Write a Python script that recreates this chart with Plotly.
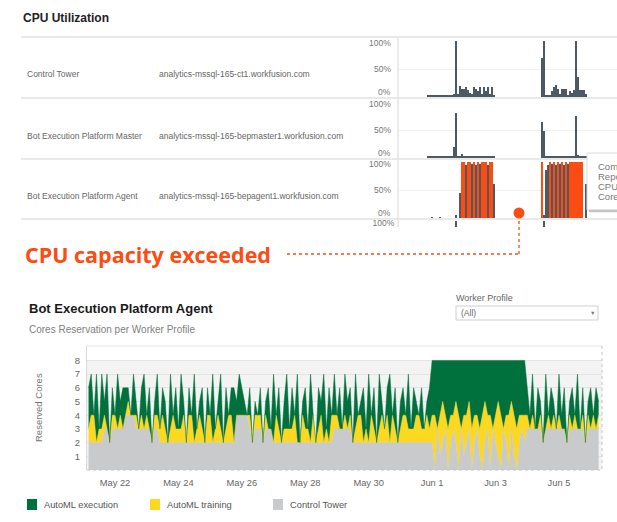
import plotly.graph_objects as go
import pandas as pd

W, H = 617, 522
FONT = "Liberation Sans"
ORANGE = "#fc4c12"
SLATE = "#4d5963"

# ---- Cores Reservation per Worker Profile (2-hour samples from May 21 04:00) ----
control_tower = [
    2, 2, 2, 2, 2, 2, 3, 3, 2, 3,
    3, 3, 3, 3, 4, 4, 4, 4, 3, 3, 3, 3,
    3, 3, 2, 3, 3, 2, 2, 2, 2, 2, 2, 2,
    2, 2, 2, 2, 2, 2, 2, 2, 2, 2, 2, 2,
    2, 2, 2, 2, 2, 2, 2, 2, 2, 2, 4, 4,
    4, 4, 4, 3, 2, 3, 3, 3, 2, 3, 3, 3,
    2, 2, 2, 2, 2, 2, 2, 2, 2, 2, 2, 2,
    2, 2, 2, 2, 2, 2, 2, 2, 2, 2, 2, 3,
    3, 3, 3, 3, 3, 3, 2, 2, 2, 2, 2, 2,
    2, 2, 2, 2, 2, 2, 2, 2, 2, 2, 2, 2,
    2, 2, 2, 2, 2, 2, 2, 2, 2, 2, 2, 2,
    2, 0, 3, 1, 2, 3, 0, 2, 3, 2, 0, 3,
    1, 2, 3, 0, 2, 3, 1, 0, 2, 3, 0, 3,
    2, 1, 0, 3, 2, 0, 3, 1, 0, 2, 3, 2,
    3, 3, 3, 3, 3, 3, 2, 3, 3, 3, 3, 3,
    3, 3, 3, 2, 3, 3, 3, 3, 3, 3, 2, 3,
    3, 3, 3, 3,
]
automl_training = [
    1, 2, 2, 0, 1, 1, 1, 0, 0, 1,
    1, 0, 1, 0, 0, 1, 0, 0, 1, 0, 1, 0,
    1, 0, 0, 1, 1, 1, 2, 1, 0, 1, 2, 1,
    1, 1, 2, 0, 2, 2, 0, 1, 2, 1, 0, 2,
    2, 0, 1, 2, 1, 0, 1, 2, 2, 0, 0, 0,
    0, 0, 0, 1, 0, 1, 1, 1, 0, 1, 0, 0,
    0, 2, 1, 0, 1, 1, 1, 1, 2, 0, 0, 2,
    1, 1, 0, 2, 0, 1, 2, 0, 1, 0, 2, 1,
    1, 0, 0, 1, 0, 1, 0, 1, 2, 2, 0, 1,
    0, 2, 1, 0, 1, 2, 1, 2, 0, 2, 1, 0,
    1, 2, 2, 1, 1, 1, 2, 2, 1, 1, 2, 1,
    2, 4, 0, 3, 3, 1, 3, 2, 1, 3, 4, 0,
    3, 2, 2, 3, 2, 1, 2, 4, 3, 1, 4, 0,
    2, 4, 4, 0, 2, 4, 2, 3, 3, 2, 1, 2,
    1, 0, 1, 0, 0, 1, 0, 0, 1, 0, 1, 0,
    1, 0, 0, 0, 1, 0, 1, 0, 0, 1, 0, 1,
    0, 1, 0, 1,
]
automl_execution = [
    3, 3, 0, 5, 0, 4, 1, 4, 0, 2,
    0, 4, 1, 3, 2, 1, 0, 3, 1, 0, 2, 4,
    0, 3, 0, 1, 3, 0, 2, 2, 0, 4, 0, 3,
    0, 4, 1, 0, 2, 0, 5, 0, 1, 3, 0, 2,
    0, 5, 0, 1, 4, 0, 3, 0, 2, 4, 1, 3,
    2, 1, 0, 2, 0, 1, 0, 2, 0, 1, 3, 0,
    5, 0, 3, 0, 2, 4, 0, 3, 0, 5, 0, 1,
    3, 0, 5, 0, 0, 3, 1, 5, 0, 4, 0, 3,
    0, 3, 0, 3, 2, 2, 0, 4, 0, 1, 4, 0,
    5, 0, 3, 0, 4, 1, 0, 2, 5, 0, 3, 0,
    2, 2, 0, 4, 0, 3, 1, 0, 3, 0, 1, 3,
    4, 4, 5, 4, 3, 4, 5, 4, 4, 3, 4, 5,
    4, 4, 3, 5, 4, 4, 5, 4, 3, 4, 4, 5,
    4, 3, 4, 5, 4, 4, 3, 4, 5, 4, 4, 4,
    2, 1, 3, 0, 3, 1, 0, 4, 0, 3, 1, 0,
    3, 1, 3, 0, 1, 3, 0, 4, 0, 2, 0, 1,
    3, 0, 3, 1,
]
times = pd.date_range("2021-05-21 04:00", periods=len(control_tower), freq="2h")

tick_dates = ["2021-05-22", "2021-05-24", "2021-05-26", "2021-05-28",
              "2021-05-30", "2021-06-01", "2021-06-03", "2021-06-05"]
tick_labels = ["May 22", "May 24", "May 26", "May 28", "May 30", "Jun 1", "Jun 3", "Jun 5"]

# ---- CPU Utilization sparklines (hour offsets, % CPU) ----
hours = list(range(30, 97, 2)) + list(range(144, 189, 2))
cpu_control_tower = [2, 2, 2, 2, 2, 2, 3, 2, 2, 2, 2, 2, 2,
                     6, 100, 5, 20, 15, 15, 17, 12, 8, 5, 17, 15, 10, 17, 5, 17, 10, 18, 5, 18, 3,
                     70, 100, 2, 2, 2, 10, 17, 22, 15, 5, 15, 15, 15, 2, 10, 8, 12, 100, 35, 12, 12, 12, 5]
cpu_bep_master = [2, 2, 2, 2, 2, 2, 2, 2, 2, 2, 2, 2, 2,
                  20, 80, 3, 4, 8, 3, 2, 2, 3, 2, 2, 3, 2, 2, 3, 2, 2, 3, 2, 2, 2,
                  65, 48, 2, 2, 2, 2, 3, 2, 2, 3, 2, 2, 3, 2, 2, 2, 2, 75, 5, 3, 2, 2, 2]
cpu_bep_agent = [0, 0, 1, 0, 0, 0, 1, 0, 0, 0, 0, 0, 0, 0, 5, 0, 45,
                 100, 100, 95, 100, 100, 96, 100, 95, 100, 97, 100, 100, 100, 95, 100, 100, 60,
                 100, 5, 85, 95, 100, 96, 100, 95, 100, 96, 100, 95, 100, 96,
                 100, 100, 100, 100, 100, 100, 100, 0, 60]
next_row_hours = [58, 146]
next_row_cpu = [100, 100]

rows = ["Control Tower", "Bot Execution Platform Master", "Bot Execution Platform Agent"]
hosts = ["analytics-mssql-165-ct1.workfusion.com",
         "analytics-mssql-165-bepmaster1.workfusion.com",
         "analytics-mssql-165-bepagent1.workfusion.com"]

legend_names = ["AutoML execution", "AutoML training", "Control Tower"]
legend_colors = ["#00703c", "#fcd920", "#c8cacc"]


def px(x):
    return x / W


def py(y):
    return 1 - y / H


fig = go.Figure()

# stacked areas: gray bottom, yellow, green on top
for name, vals, col in [("Control Tower", control_tower, "#c8cacc"),
                        ("AutoML training", automl_training, "#fcd920"),
                        ("AutoML execution", automl_execution, "#00703c")]:
    fig.add_trace(go.Scatter(x=times, y=vals, name=name, stackgroup="cores", mode="lines",
                             line=dict(width=0.5, color=col), fillcolor=col, showlegend=False))

# sparklines
agent_colors = [ORANGE if v >= 100 else SLATE for v in cpu_bep_agent]
for i, (vals, cols) in enumerate([(cpu_control_tower, SLATE), (cpu_bep_master, SLATE),
                                  (cpu_bep_agent, agent_colors)]):
    fig.add_trace(go.Bar(x=hours, y=vals, width=1.8, marker=dict(color=cols, line_width=0),
                         xaxis="x%d" % (i + 2), yaxis="y%d" % (i + 2), showlegend=False))
fig.add_trace(go.Bar(x=next_row_hours, y=next_row_cpu, width=1.6,
                     marker=dict(color=SLATE, line_width=0),
                     xaxis="x5", yaxis="y5", showlegend=False))
# clipped label of the next (cut off) row
fig.add_trace(go.Scatter(x=[0], y=[0], mode="text", text=["100%"], textposition="middle left",
                         textfont=dict(size=8.5, color="#777", family=FONT), cliponaxis=True,
                         xaxis="x6", yaxis="y6", showlegend=False))

spark_rows = [(41, 97), (102, 158), (162, 218)]
layout_axes = {}
for i, (top, bot) in enumerate(spark_rows):
    n = i + 2
    layout_axes["xaxis%d" % n] = dict(domain=[px(398), 1], range=[0, 219], visible=False,
                                      anchor="y%d" % n)
    layout_axes["yaxis%d" % n] = dict(domain=[py(bot), py(top)], range=[0, 100], anchor="x%d" % n,
                                      tickvals=[50, 100], showticklabels=False, showgrid=True,
                                      gridcolor="#f1f1f1", zeroline=False, fixedrange=True)
layout_axes["xaxis5"] = dict(domain=[px(398), 1], range=[0, 219], visible=False, anchor="y5")
layout_axes["yaxis5"] = dict(domain=[py(227), py(221)], range=[88, 100], visible=False, anchor="x5")
layout_axes["xaxis6"] = dict(domain=[px(360), px(396)], range=[-1, 0.05], visible=False, anchor="y6")
layout_axes["yaxis6"] = dict(domain=[py(227), py(219)], range=[-1, 2], visible=False, anchor="x6")

shapes = []
for y in [37, 98, 159, 219]:
    shapes.append(dict(type="line", xref="paper", yref="paper", x0=px(21), x1=1, y0=py(y), y1=py(y),
                       line=dict(color="#e2e2e2", width=1.5)))
shapes.append(dict(type="line", xref="paper", yref="paper", x0=px(398), x1=px(398),
                   y0=py(37), y1=py(227), line=dict(color="#e2e2e2", width=1.3)))

# bottom chart frame and band
shapes.append(dict(type="rect", xref="paper", yref="y", x0=px(87), x1=px(602), y0=0, y1=8,
                   fillcolor="#f3f3f3", line_width=0, layer="below"))
shapes.append(dict(type="line", xref="paper", yref="paper", x0=px(87), x1=px(602),
                   y0=py(346), y1=py(346), line=dict(color="#e6e6e6", width=1)))
shapes.append(dict(type="line", xref="paper", yref="paper", x0=px(602), x1=px(602),
                   y0=py(346), y1=py(470), line=dict(color="#c4c4c4", width=1, dash="dot")))
shapes.append(dict(type="line", xref="paper", yref="paper", x0=px(87), x1=px(602),
                   y0=py(470), y1=py(470), line=dict(color="#c4c4c4", width=1, dash="dot")))

# callout
shapes.append(dict(type="line", xref="paper", yref="paper", x0=px(519), x1=px(519),
                   y0=py(215), y1=py(254), line=dict(color=ORANGE, width=1.3, dash="dot")))
shapes.append(dict(type="line", xref="paper", yref="paper", x0=px(287), x1=px(519),
                   y0=py(254), y1=py(254), line=dict(color=ORANGE, width=1.3, dash="dot")))
shapes.append(dict(type="circle", xref="paper", yref="paper", x0=px(513.5), x1=px(524.5),
                   y0=py(218.5), y1=py(207.5), fillcolor=ORANGE, line_width=0))

# tooltip fragment
shapes.append(dict(type="rect", xref="paper", yref="paper", x0=px(587), x1=px(640),
                   y0=py(210), y1=py(153), fillcolor="white",
                   line=dict(color="#dcdcdc", width=1), layer="above"))
shapes.append(dict(type="line", xref="paper", yref="paper", x0=px(589), x1=1,
                   y0=py(211), y1=py(211), line=dict(color="#c4c4c4", width=2.5), layer="above"))

# dropdown
shapes.append(dict(type="rect", xref="paper", yref="paper", x0=px(456), x1=px(598),
                   y0=py(320), y1=py(306), fillcolor="white", line=dict(color="#cfcfcf", width=1)))

# legend swatches
for i, col in enumerate(legend_colors):
    x0 = 27 + i * 123
    shapes.append(dict(type="rect", xref="paper", yref="paper", x0=px(x0), x1=px(x0 + 10),
                       y0=py(510), y1=py(499), fillcolor=col, line_width=0))

annotations = []


def note(text, x, y, size, color, xanchor="left", weight="normal", family=FONT, angle=0):
    annotations.append(dict(text=text, x=px(x), y=py(y), xref="paper", yref="paper",
                            xanchor=xanchor, yanchor="middle", showarrow=False, textangle=angle,
                            font=dict(size=size, color=color, family=family, weight=weight)))


note("CPU Utilization", 21, 18, 12, "#222", weight="bold")
for i, (top, bot) in enumerate(spark_rows):
    mid = (37 + 61 * i + 37 + 61 * (i + 1)) / 2
    note(rows[i], 25, mid + 7, 8.5, "#666")
    note(hosts[i], 157, mid + 7, 8.5, "#666")
    for val, shift in [(100, -2), (50, 0), (0, 5)]:
        annotations.append(dict(text="%d%%" % val, x=px(393), y=val, xref="paper",
                                yref="y%d" % (i + 2), yshift=shift, xanchor="right",
                                yanchor="middle", showarrow=False,
                                font=dict(size=8.5, color="#777", family=FONT)))

for k, word in enumerate(["Computer", "Reported", "CPU Utilization", "Cores"]):
    note(word, 596, 166 + k * 10.3, 9.5, "#777")

note("CPU capacity exceeded", 23, 254, 21.5, ORANGE, weight="bold", family="Open Sans")

note("Bot Execution Platform Agent", 27, 308, 13, "#1a1a1a", weight="bold")
note("Cores Reservation per Worker Profile", 27, 329, 10, "#808080")
note("Worker Profile", 454, 298, 9, "#666")
note("(All)", 459, 313, 8.5, "#666")
note("▼", 592, 313, 5.5, "#777", xanchor="center")
note("Reserved Cores", 38, 408, 9.5, "#777", xanchor="center", angle=-90)

for i, name in enumerate(legend_names):
    note(name, 42 + i * 123, 505, 9.3, "#555")

fig.update_layout(
    width=W, height=H, autosize=False,
    margin=dict(l=0, r=0, t=0, b=0),
    paper_bgcolor="white", plot_bgcolor="white",
    font=dict(family=FONT, size=9.5, color="#666"),
    bargap=0,
    xaxis=dict(domain=[px(87), px(602)], range=["2021-05-21 02:49", "2021-06-06 08:33"],
               tickvals=tick_dates, ticktext=tick_labels, showgrid=False, zeroline=False,
               ticks="outside", ticklen=4, tickcolor="rgba(0,0,0,0)",
               tickfont=dict(size=9.3, color="#666"), showline=False, anchor="y"),
    yaxis=dict(domain=[py(470), py(346)], range=[0, 9.05], tickvals=[1, 2, 3, 4, 5, 6, 7, 8],
               showgrid=True, gridcolor="#e4e4e4", zeroline=False, showline=True,
               linecolor="#d9d9d9", ticks="outside", ticklen=4, tickcolor="rgba(0,0,0,0)",
               tickfont=dict(size=9.5, color="#666"), anchor="x"),
    shapes=shapes,
    annotations=annotations,
    **layout_axes,
)

fig.write_html("out.html", config={"displayModeBar": False},
               post_script="document.body.style.margin = '0px';")
